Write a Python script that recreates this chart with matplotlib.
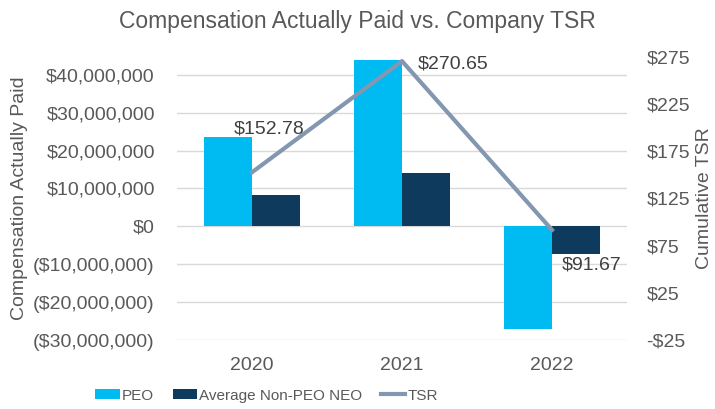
import numpy as np
import matplotlib
matplotlib.use('Agg')
import matplotlib.pyplot as plt
import matplotlib.ticker as mticker

# --- dados ---
years = ['2020', '2021', '2022']
peo_cap = [23_700_000, 44_000_000, -27_100_000]
neo_cap = [8_400_000, 14_100_000, -7_200_000]
tsr = [152.78, 270.65, 91.67]
tsr_labels = ['$152.78', '$270.65', '$91.67']

plt.rcParams['font.family'] = ['Liberation Sans', 'DejaVu Sans']
txt = '#595959'

fig = plt.figure(figsize=(7.15, 4.09), dpi=100)
ax = fig.add_axes([177 / 715, 1 - 340 / 409, 450 / 715, 283 / 409])
ax2 = ax.twinx()

x = np.arange(len(years))
w = 0.32
ax.bar(x - w / 2, peo_cap, w, color='#00BAF2', label='PEO', zorder=2)
ax.bar(x + w / 2, neo_cap, w, color='#0E3A5E', label='Average Non-PEO NEO', zorder=2)

ax.set_xlim(-0.5, 2.5)
ax.set_ylim(-30_000_000, 44_700_000)
ax.set_yticks(np.arange(-30_000_000, 40_000_001, 10_000_000))
ax.yaxis.set_major_formatter(mticker.FuncFormatter(
    lambda v, p: f'${v:,.0f}' if v >= 0 else f'(${-v:,.0f})'))
ax.grid(axis='y', color='#D9D9D9', linewidth=1, zorder=0)
ax.set_xticks(x)
ax.set_xticklabels(years)

line, = ax2.plot(x, tsr, color='#8497B0', linewidth=3, label='TSR', zorder=3)
ax2.set_ylim(-25, 275)
ax2.set_yticks(np.arange(-25, 276, 50))
ax2.yaxis.set_major_formatter(mticker.FuncFormatter(
    lambda v, p: f'${v:.0f}' if v >= 0 else f'-${-v:.0f}'))

# rotulos da linha
offsets = [(12, 31), (11, -2), (7, -25)]
has = ['center', 'left', 'left']
for i, lab in enumerate(tsr_labels):
    ax2.annotate(lab, (x[i], tsr[i]), textcoords='offset points', xytext=offsets[i],
                 ha=has[i], va='center', fontsize=14, color='#404040')

for a in (ax, ax2):
    for s in a.spines.values():
        s.set_visible(False)
    a.tick_params(length=0, labelsize=14, colors=txt)
ax.tick_params(axis='y', pad=16)
ax.tick_params(axis='x', pad=12)
ax2.tick_params(axis='y', pad=14)

ax.set_ylabel('Compensation Actually Paid', fontsize=14, color=txt, labelpad=4)
ax2.set_ylabel('Cumulative TSR', fontsize=14, color=txt, labelpad=4)
fig.suptitle('Compensation Actually Paid vs. Company TSR', fontsize=16.5, color=txt, y=0.975)

h1, l1 = ax.get_legend_handles_labels()
fig.legend(h1 + [line], l1 + ['TSR'], loc='lower center', bbox_to_anchor=(0.373, -0.018),
           ncol=3, frameon=False, fontsize=11, labelcolor=txt,
           handlelength=1.6, handleheight=0.6, handletextpad=0.15, columnspacing=1.2)

fig.savefig('out.png', dpi=100)
